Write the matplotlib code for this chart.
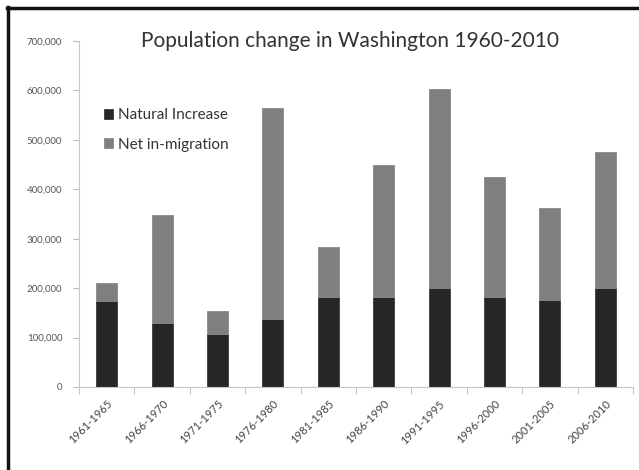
import matplotlib.pyplot as plt
from matplotlib.lines import Line2D
from matplotlib.ticker import FuncFormatter, FixedLocator

# -----------------------------
# Data
# -----------------------------
periods = ["1961-1965", "1966-1970", "1971-1975", "1976-1980", "1981-1985",
           "1986-1990", "1991-1995", "1996-2000", "2001-2005", "2006-2010"]
natural = [174000, 130000, 107000, 137000, 182000,
           182000, 201000, 182000, 176000, 201000]
migration = [37000, 217000, 47000, 427000, 101000,
             268000, 402000, 242000, 187000, 275000]

plt.rcParams["font.family"] = ["Lato", "DejaVu Sans"]

fig = plt.figure(figsize=(6.39, 4.70), dpi=100)
ax = fig.add_axes([0.1236, 0.1766, 0.867, 0.7362])

x = range(len(periods))
ax.bar(x, natural, width=0.38, color="#262626", edgecolor="#3a3a3a",
       linewidth=0.6, label="Natural Increase")
ax.bar(x, migration, width=0.38, bottom=natural, color="#7f7f7f",
       edgecolor="#8a8a8a", linewidth=0.6, label="Net in-migration")

# -----------------------------
# Formatting
# -----------------------------
ax.set_xlim(-0.5, len(periods) - 0.5)
ax.set_ylim(0, 700000)
ax.set_yticks(range(0, 700001, 100000))
ax.yaxis.set_major_formatter(FuncFormatter(lambda v, p: f"{int(v):,}"))
ax.tick_params(axis="y", labelsize=7, labelcolor="#555555", color="#bbbbbb",
               length=4, pad=8)

ax.set_xticks(list(x))
ax.set_xticklabels(periods, rotation=45, ha="right", rotation_mode="anchor",
                   fontsize=8, color="#444444")
ax.tick_params(axis="x", length=0, pad=8)
ax.xaxis.set_minor_locator(FixedLocator([i - 0.5 for i in range(len(periods) + 1)]))
ax.tick_params(axis="x", which="minor", length=5, color="#bbbbbb")

for side in ["top", "right"]:
    ax.spines[side].set_visible(False)
ax.spines["left"].set_color("#c8c8c8")
ax.spines["bottom"].set_color("#c8c8c8")

fig.text(0.547, 0.912, "Population change in Washington 1960-2010",
         ha="center", va="center", fontsize=15, color="#333333")

ax.legend(loc="upper left", bbox_to_anchor=(0.02, 0.845), frameon=False,
          fontsize=11, handlelength=0.6, handleheight=0.6, handletextpad=0.3,
          labelspacing=1.0, labelcolor="#333333")

# dark frame on the left and top edges
fig.add_artist(Line2D([0.012, 0.012], [0, 0.985], color="#111111", lw=2.5,
                      transform=fig.transFigure))
fig.add_artist(Line2D([0.0105, 1.0], [0.983, 0.983], color="#111111", lw=2.5,
                      transform=fig.transFigure))

fig.savefig("out.png", dpi=100)
